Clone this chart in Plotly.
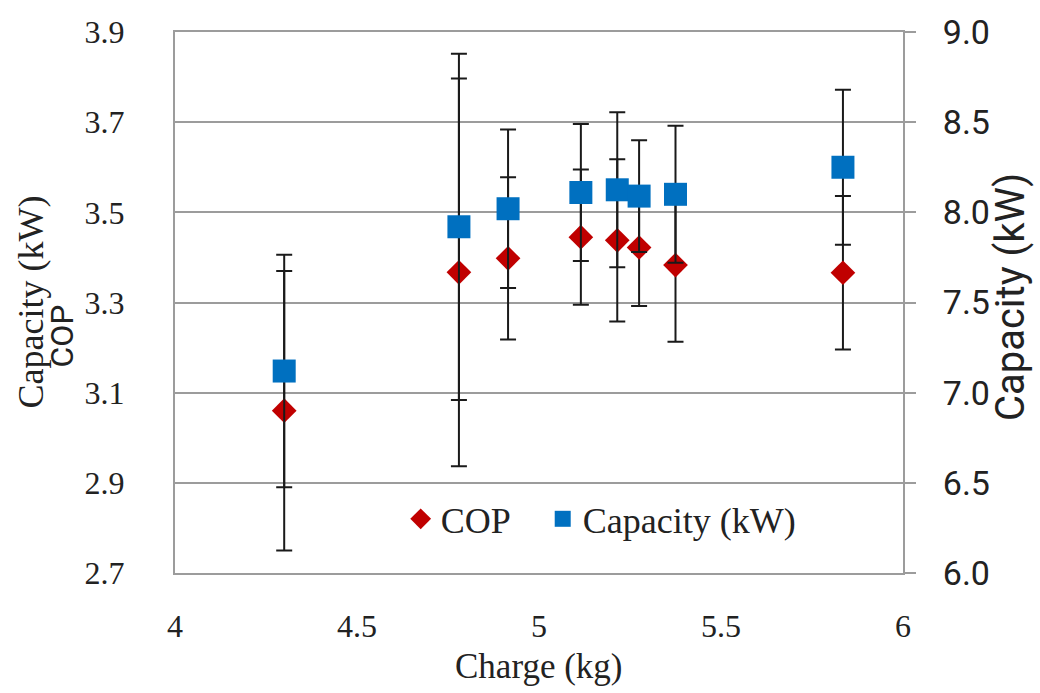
import plotly.graph_objects as go

# ---- data ----
charge = [4.30, 4.78, 4.915, 5.115, 5.215, 5.275, 5.375, 5.835]
cop = [3.06, 3.367, 3.398, 3.445, 3.438, 3.422, 3.383, 3.366]
cop_err = [0.31, 0.43, 0.18, 0.15, 0.18, 0.13, 0.17, 0.17]
capacity = [7.12, 7.92, 8.02, 8.11, 8.125, 8.09, 8.10, 8.25]
cap_err = [0.645, 0.96, 0.44, 0.38, 0.43, 0.31, 0.38, 0.43]

cop_ticks = [2.7, 2.9, 3.1, 3.3, 3.5, 3.7, 3.9]
cap_ticks = [6.0, 6.5, 7.0, 7.5, 8.0, 8.5, 9.0]
x_ticks = [4, 4.5, 5, 5.5, 6]
x_labels = ["4", "4.5", "5", "5.5", "6"]

SERIF = "Liberation Serif"
SANS = "Liberation Sans Narrow, Roboto, sans-serif"
GRID = "#9c9c9c"

fig = go.Figure()
fig.add_trace(go.Scatter(
    x=charge, y=cop, mode="markers", name="COP\u00a0\u00a0\u00a0",
    marker=dict(symbol="diamond", size=19, color="#C00000"),
    error_y=dict(type="data", array=cop_err, color="#1a1a1a", thickness=2, width=8),
    yaxis="y",
))
fig.add_trace(go.Scatter(
    x=charge, y=capacity, mode="markers", name="Capacity (kW)",
    marker=dict(symbol="square", size=23, color="#0070C0"),
    error_y=dict(type="data", array=cap_err, color="#1a1a1a", thickness=2, width=8),
    yaxis="y2",
))

fig.update_layout(
    width=1040, height=693,
    margin=dict(l=175, r=137, t=28, b=120),
    paper_bgcolor="white", plot_bgcolor="white",
    showlegend=True,
    legend=dict(orientation="h", x=0.31, y=0.10, xanchor="left", yanchor="middle",
                font=dict(family=SERIF, size=36, color="#222"),
                bgcolor="rgba(0,0,0,0)", itemwidth=30),
    xaxis=dict(range=[4, 6], tickvals=x_ticks, ticktext=x_labels,
               showgrid=False, zeroline=False, showline=True, linecolor=GRID,
               linewidth=2, mirror=True, ticks="", ticklabelstandoff=24,
               tickfont=dict(family=SERIF, size=32, color="#222")),
    yaxis=dict(range=[2.7, 3.9], tickvals=cop_ticks, tickformat=".1f",
               showgrid=True, gridcolor=GRID, gridwidth=2, zeroline=False,
               showline=True, linecolor=GRID, linewidth=2, ticks="",
               ticklabelstandoff=42,
               tickfont=dict(family=SERIF, size=32, color="#222")),
    yaxis2=dict(range=[6.0, 9.0], tickvals=cap_ticks, tickformat=".1f",
                overlaying="y", side="right", showgrid=False, zeroline=False,
                showline=True, linecolor=GRID, linewidth=2,
                ticks="outside", ticklen=11, tickwidth=2, tickcolor=GRID,
                ticklabelstandoff=20,
                tickfont=dict(family=SANS, size=34, color="#222")),
)

fig.add_annotation(text="Capacity (kW)", x=0, xref="paper", y=0.50, yref="paper",
                   xanchor="center", yanchor="middle",
                   xshift=-145, textangle=-90, showarrow=False,
                   font=dict(family=SERIF, size=36, color="#222"))
fig.add_annotation(text="COP", x=0, xref="paper", y=0.437, yref="paper",
                   xanchor="center", yanchor="middle",
                   xshift=-113, textangle=-90, showarrow=False,
                   font=dict(family=SANS, size=32, color="#222"))
fig.add_annotation(text="Capacity (kW)", x=1, xref="paper", y=0.51, yref="paper",
                   xanchor="center", yanchor="middle",
                   xshift=107, textangle=-90, showarrow=False,
                   font=dict(family=SANS, size=40, color="#222"))
fig.add_annotation(text="Charge (kg)", x=5, xref="x", y=0, yref="paper",
                   yshift=-93, showarrow=False, yanchor="middle",
                   font=dict(family=SERIF, size=35, color="#222"))

fig.write_html("out.html")
